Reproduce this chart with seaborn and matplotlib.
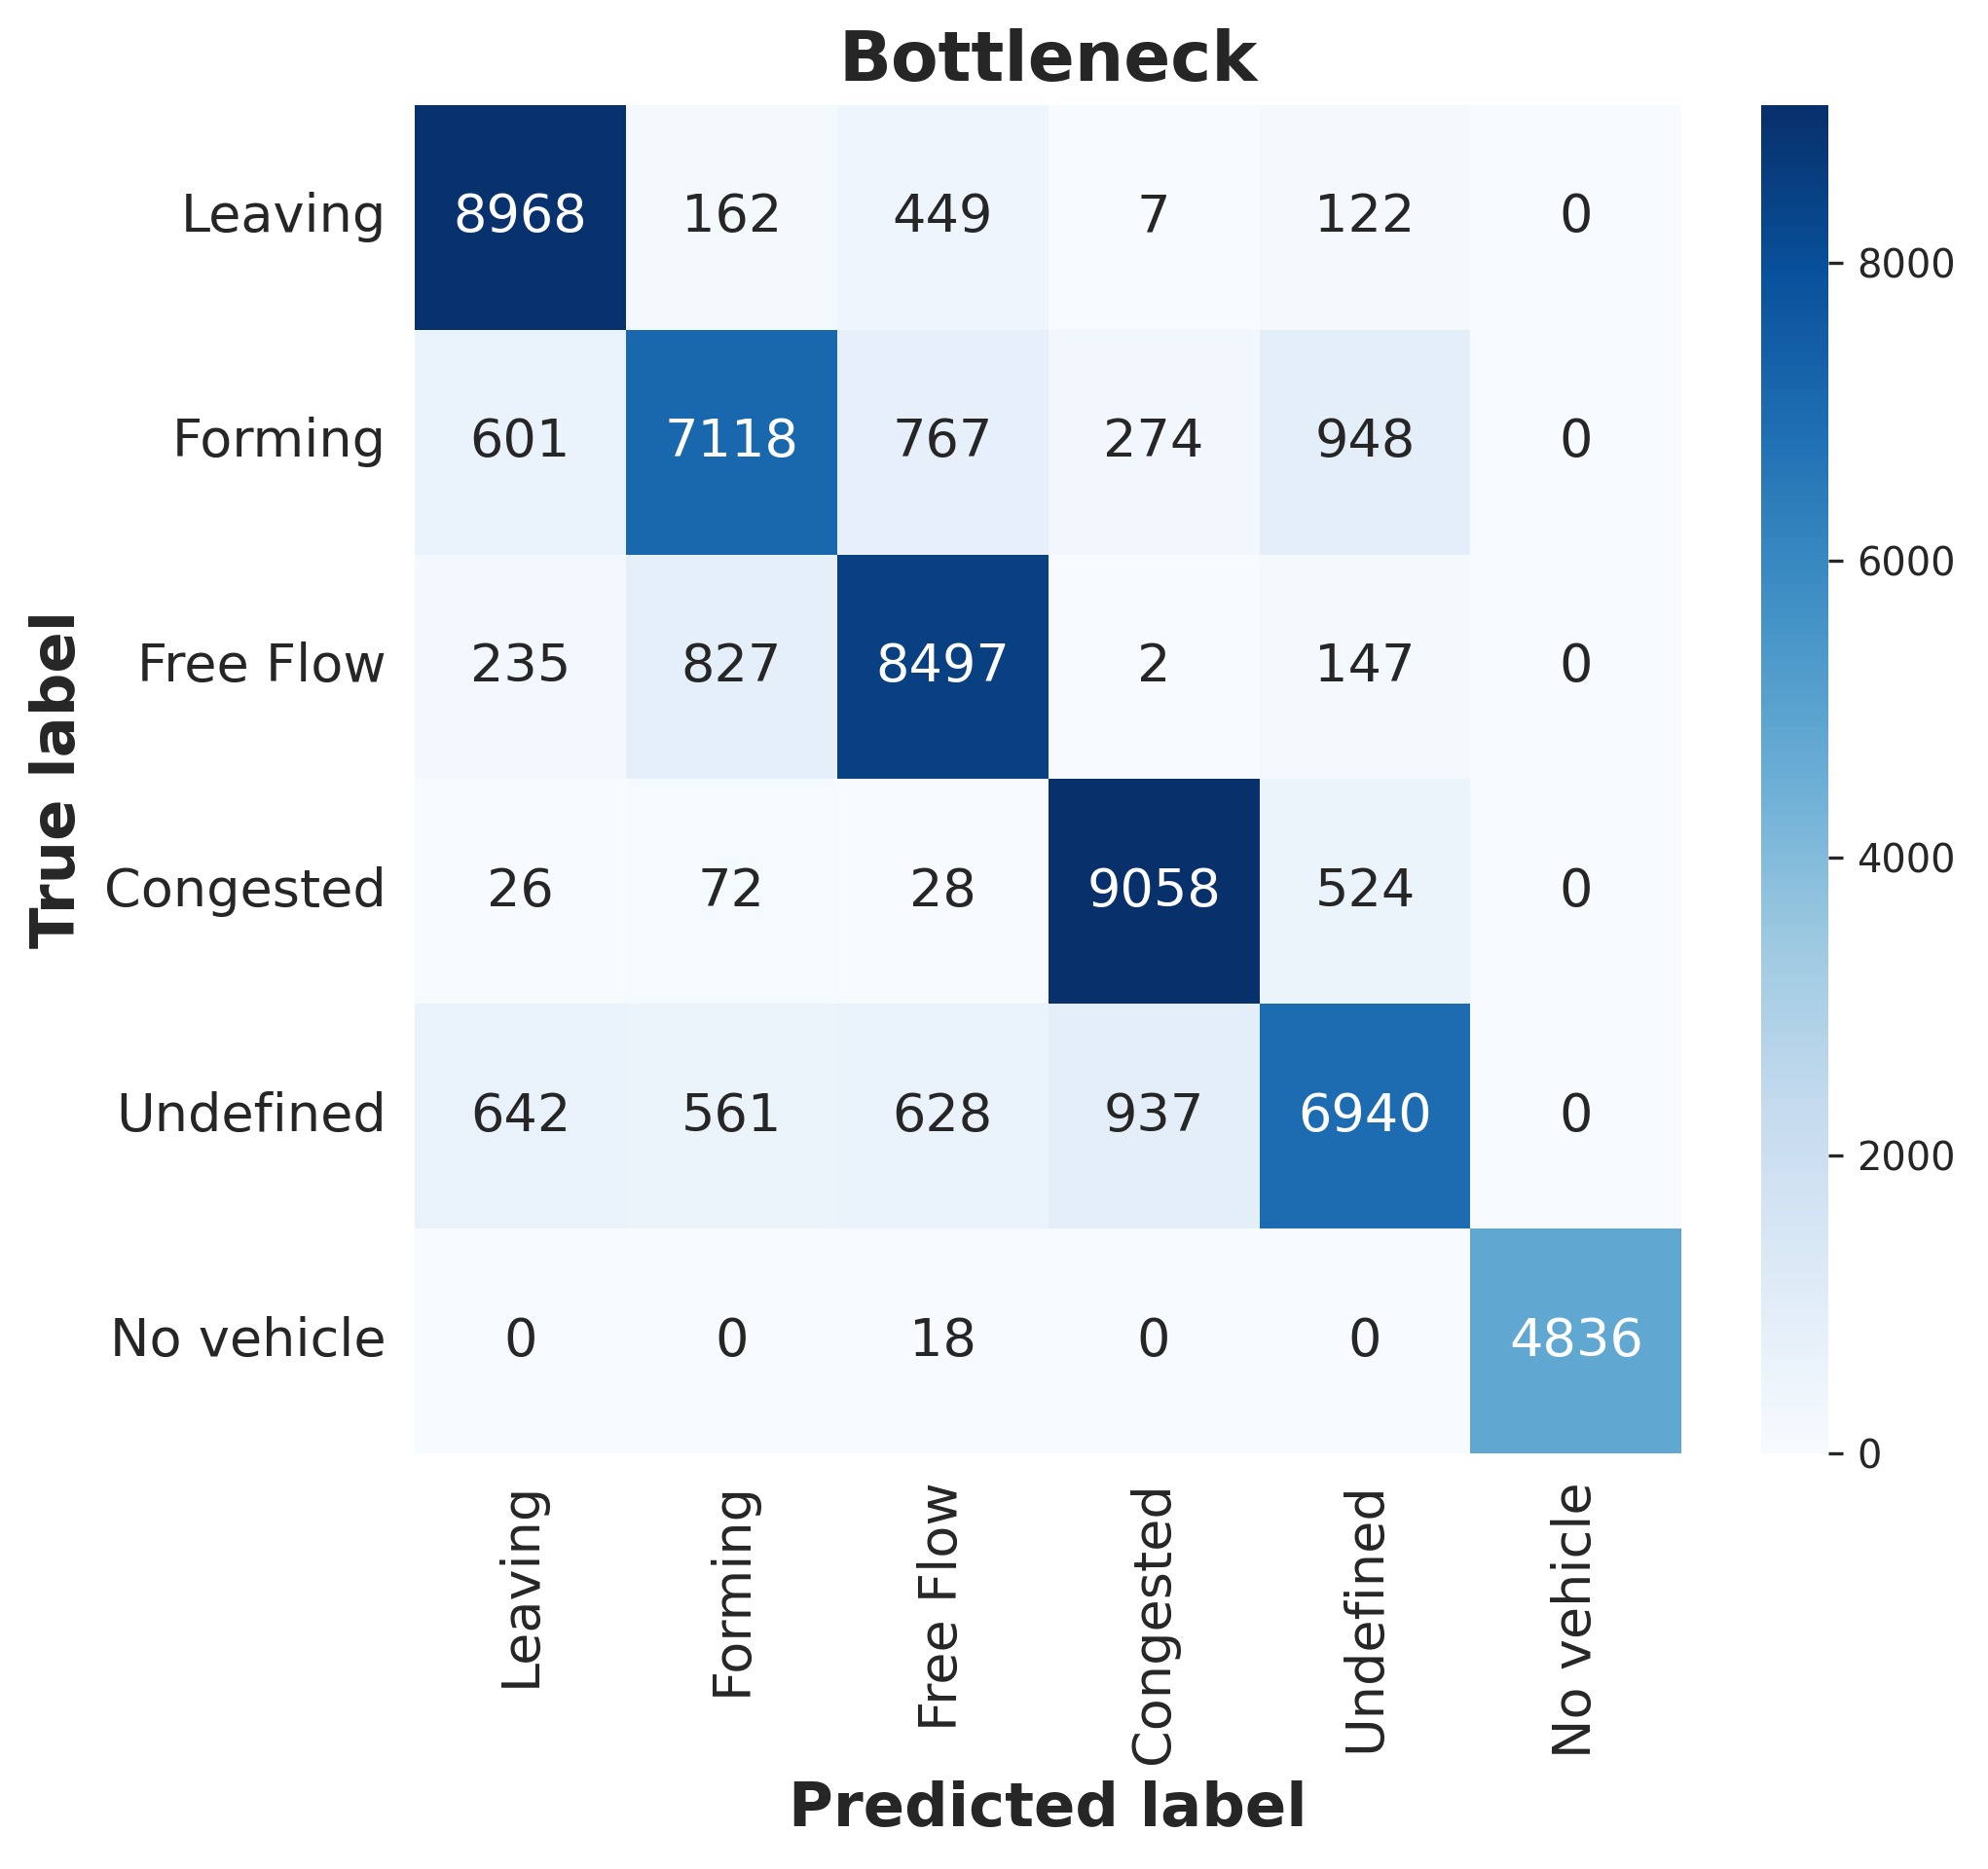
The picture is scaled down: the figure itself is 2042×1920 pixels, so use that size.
import numpy as np
import matplotlib
matplotlib.use("Agg")
import matplotlib.pyplot as plt
import seaborn as sns

labels = ["Leaving", "Forming", "Free Flow", "Congested", "Undefined", "No vehicle"]

row_leaving = [8968, 162, 449, 7, 122, 0]
row_forming = [601, 7118, 767, 274, 948, 0]
row_freeflow = [235, 827, 8497, 2, 147, 0]
row_congested = [26, 72, 28, 9058, 524, 0]
row_undefined = [642, 561, 628, 937, 6940, 0]
row_novehicle = [0, 0, 18, 0, 0, 4836]

cm = np.array([row_leaving, row_forming, row_freeflow,
               row_congested, row_undefined, row_novehicle])

sns.set_theme(style="white")
plt.rcParams['font.family'] = ['DejaVu Sans']

fig = plt.figure(figsize=(2043 / 300, 1920 / 300), dpi=300)
ax = fig.add_axes([0.2085, 0.2224, 0.637, 0.7214])
cax = fig.add_axes([0.8855, 0.2224, 0.0338, 0.7214])

sns.heatmap(cm, annot=True, fmt="d", cmap="Blues", ax=ax, cbar_ax=cax,
            xticklabels=labels, yticklabels=labels,
            annot_kws={"fontsize": 13})

ax.tick_params(axis="both", length=0, labelsize=13, pad=7)
ax.set_xticklabels(labels, rotation=90)
ax.set_yticklabels(labels, rotation=0)
ax.set_title("Bottleneck", fontsize=17, fontweight="bold", pad=6)
ax.set_xlabel("Predicted label", fontsize=15, fontweight="bold")
ax.set_ylabel("True label", fontsize=15, fontweight="bold")

cax.tick_params(labelsize=9.6, length=3.5, width=0.8, left=False, right=True)

fig.savefig("out.png", dpi=300)
